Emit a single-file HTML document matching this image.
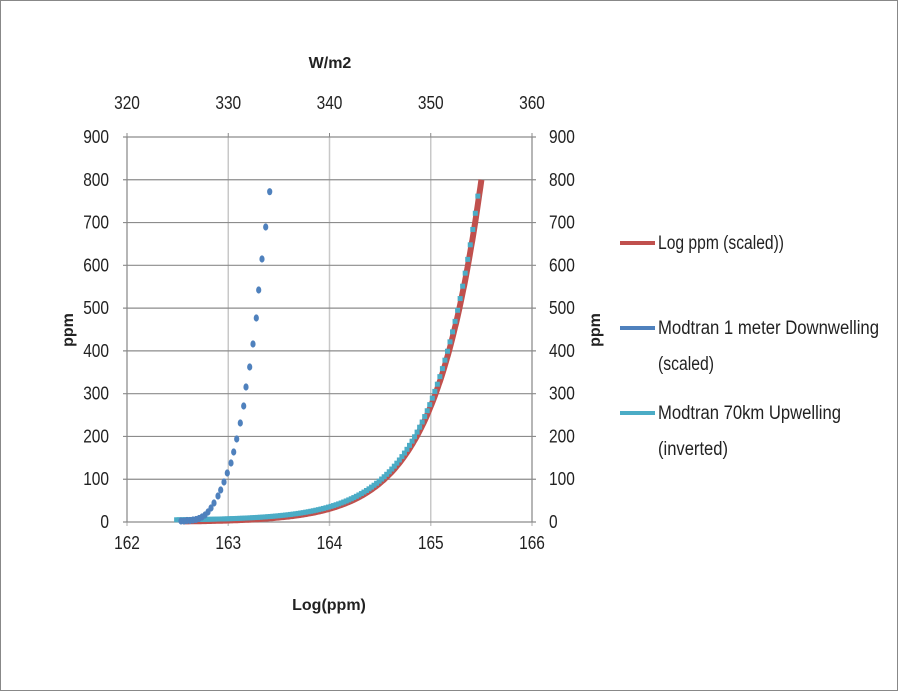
<!DOCTYPE html>
<html><head><meta charset="utf-8"><style>
html,body{margin:0;padding:0;background:#fff}
svg{display:block}
text{font-family:"Liberation Sans Narrow","Liberation Sans",sans-serif;fill:#222}
</style></head><body>
<svg id="s" width="899" height="692" xmlns="http://www.w3.org/2000/svg">
<rect x="0.5" y="0.5" width="897" height="690" fill="#fff" stroke="#888" stroke-width="1"/>
<g id="grid"></g>
<g id="data"></g>
<g font-size="17">
<text x="330" y="68" text-anchor="middle" font-weight="bold" font-family="Liberation Sans" font-size="16">W/m2</text>
<text x="329" y="610" text-anchor="middle" font-weight="bold" font-family="Liberation Sans" font-size="16">Log(ppm)</text>
<text transform="translate(73,330) rotate(-90)" text-anchor="middle" font-weight="bold" font-family="Liberation Sans" font-size="16">ppm</text>
<text transform="translate(600,330) rotate(-90)" text-anchor="middle" font-weight="bold" font-family="Liberation Sans" font-size="16">ppm</text>
</g>
<g>
<line x1="620" y1="243" x2="655" y2="243" stroke="#c0504d" stroke-width="4"/>
<line x1="620" y1="328" x2="655" y2="328" stroke="#4f81bd" stroke-width="4"/>
<line x1="620" y1="413" x2="655" y2="413" stroke="#4bacc6" stroke-width="4"/>
<text x="658" y="249" font-size="19" textLength="126" lengthAdjust="spacingAndGlyphs">Log ppm (scaled))</text>
<text x="658" y="334" font-size="19" textLength="221" lengthAdjust="spacingAndGlyphs">Modtran 1 meter Downwelling</text>
<text x="658" y="370" font-size="19" textLength="56" lengthAdjust="spacingAndGlyphs">(scaled)</text>
<text x="658" y="419" font-size="19" textLength="183" lengthAdjust="spacingAndGlyphs">Modtran 70km Upwelling</text>
<text x="658" y="455" font-size="19" textLength="70" lengthAdjust="spacingAndGlyphs">(inverted)</text>
</g>
</svg>
<script>
var NS="http://www.w3.org/2000/svg";
function el(p,n,a,t){var e=document.createElementNS(NS,n);for(var k in a)e.setAttribute(k,a[k]);if(t!==undefined)e.textContent=t;p.appendChild(e);return e;}
var g=document.getElementById('grid'),d=document.getElementById('data');
var X0=127,X1=532,Y0=522,Y9=137;
function px(v){return X0+(v-162)*(X1-X0)/4;}
function py(v){return Y0-v*(Y0-Y9)/900;}
function num(x,y,s,anchor){var w=s.length*8.6;var a={x:x,y:y,'font-size':18,textLength:w,lengthAdjust:'spacingAndGlyphs'};if(anchor)a['text-anchor']=anchor;el(g,'text',a,s);}
for(var i=0;i<=4;i++){var x=X0+i*(X1-X0)/4;el(g,'line',{x1:x,y1:Y9,x2:x,y2:Y0+4,stroke:'#c8c8c8','stroke-width':1.5});
el(g,'line',{x1:x,y1:Y9-4,x2:x,y2:Y9,stroke:'#888'});
num(x,549,String(162+i),'middle');
num(x,109,String(320+10*i),'middle');}
for(var j=0;j<=9;j++){var y=py(j*100);el(g,'line',{x1:X0-4,y1:y,x2:X1+4,y2:y,stroke:'#8c8c8c','stroke-width':1.2});
num(109,y+6,String(j*100),'end');
num(549,y+6,String(j*100));}
el(g,'line',{x1:X0,y1:Y9,x2:X0,y2:Y0,stroke:'#888'});el(g,'line',{x1:X1,y1:Y9,x2:X1,y2:Y0,stroke:'#888'});
// red curve
var pts=[];for(var v=162.55;v<=165.501;v+=0.01){var p=800*Math.exp(2.17*(v-165.5));pts.push(px(v).toFixed(1)+','+py(p).toFixed(1));}
el(d,'polyline',{points:pts.join(' '),fill:'none',stroke:'#c0504d','stroke-width':6});
// cyan squares
for(var v=162.5;v<=165.49;v+=0.025){var p=800*Math.exp(2.17*(v-165.5))+ 4;var xx=px(v)-1;
el(d,'rect',{x:xx-2.5,y:py(p)-2.5,width:5,height:5,fill:'#4bacc6'});}
// blue dots
var B=[[269.7,191.7],[265.7,227],[262,259],[258.7,290],[256.3,318],[253,344],[249.7,367],[246,387],[243.7,406],[240.3,423],[236.7,439],[233.7,452],[231,463],[227.3,473],[224,482],[220.7,490],[218,496],[214,503],[211,508],[208,512],[205,515],[202,517],[199,518.5],[196,519.5],[193,520],[190,520.5],[187,520.5],[184,521],[181,521]];
B.forEach(function(b){el(d,'ellipse',{cx:b[0],cy:b[1],rx:2.6,ry:3.6,fill:'#4f81bd'});});
</script>
</body></html>
